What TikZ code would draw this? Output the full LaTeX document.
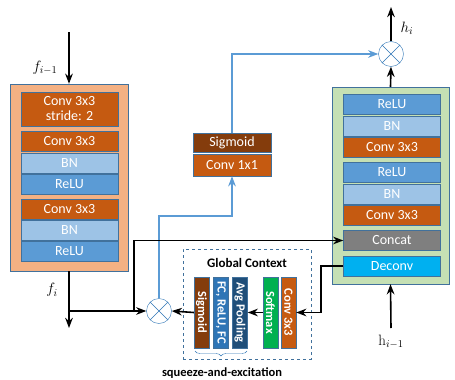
\documentclass[tikz,border=0pt]{standalone}
\usepackage{fix-cm}
\usepackage{fontspec}
\usepackage{xcolor}
\usepackage{tikz}
\usetikzlibrary{arrows.meta,positioning,calc,decorations.pathreplacing}

\newfontfamily\calibri{Carlito}
\newcommand{\blkfont}{\calibri\fontsize{14}{15}\selectfont}
\newcommand{\barfont}{\calibri\bfseries\fontsize{12.5}{13}\selectfont}
\newcommand{\mathlbl}{\fontsize{15}{17}\selectfont}

\definecolor{convc}{HTML}{C55A11}
\definecolor{bnc}{HTML}{9DC3E6}
\definecolor{reluc}{HTML}{5B9BD5}
\definecolor{sigc}{HTML}{843C0C}
\definecolor{catc}{HTML}{7F7F7F}
\definecolor{decc}{HTML}{00B0F0}
\definecolor{softc}{HTML}{00B050}
\definecolor{fcc}{HTML}{2E75B6}
\definecolor{avgc}{HTML}{1F4E79}
\definecolor{encc}{HTML}{F4B183}
\definecolor{decbox}{HTML}{C5E0B4}
\definecolor{edgec}{HTML}{41719C}
\definecolor{sel}{HTML}{5B9BD5}

\begin{document}
\begin{tikzpicture}[
  x=1pt, y=-1pt,
  blk/.style={draw=edgec, text=white, inner sep=0pt, minimum width=97pt,
    minimum height=20pt, font=\blkfont},
  conv/.style={blk, fill=convc},
  bn/.style={blk, fill=bnc},
  relu/.style={blk, fill=reluc},
  vbar/.style={draw=edgec, text=white, inner sep=0pt, rotate=-90,
    minimum width=71pt, minimum height=15pt, font=\barfont},
  stage/.style={draw=edgec, inner sep=0pt},
  mult/.style={circle, draw=fcc, fill=white, inner sep=0pt, minimum size=25pt},
  bl/.style={draw=sel, line width=1.6pt},
  wire/.style={line width=1.6pt},
  >=Stealth,
]
\useasboundingbox (0,0) rectangle (455,380);

% encoder stage
\node[stage, fill=encc, minimum width=118pt, minimum height=187pt] (enc) at (69,177.5) {};
\node[conv, minimum height=34pt, align=center] (e1) at (69.5,109) {Conv 3x3\\stride: 2};
\node[conv] (e2) at (69.5,141.5) {Conv 3x3};
\node[bn] (e3) at (69.5,163) {BN};
\node[relu] (e4) at (69.5,184) {ReLU};
\node[conv] (e5) at (69.5,209) {Conv 3x3};
\node[bn] (e6) at (69.5,230) {BN};
\node[relu] (e7) at (69.5,251.5) {ReLU};

% decoder stage
\node[stage, fill=decbox, minimum width=117pt, minimum height=197pt] (dec) at (390.5,185.5) {};
\node[relu] (d1) at (392,104) {ReLU};
\node[bn] (d2) at (392,126) {BN};
\node[conv] (d3) at (392,147) {Conv 3x3};
\node[relu] (d4) at (392,172) {ReLU};
\node[bn] (d5) at (392,194) {BN};
\node[conv] (d6) at (392,215) {Conv 3x3};
\node[blk, fill=catc] (cat) at (392,240.5) {Concat};
\node[blk, fill=decc] (dcv) at (392,266) {Deconv};

% gate
\node[blk, fill=sigc, minimum width=78pt, minimum height=19pt] (gsig) at (232,142.5) {Sigmoid};
\node[conv, minimum width=78pt, minimum height=22pt] (gconv) at (232,165) {Conv 1x1};

% global context
\node[draw=edgec, dashed, minimum width=128pt, minimum height=110pt] (gc) at (247,304) {};
\node[font=\calibri\bfseries\fontsize{13}{15}\selectfont] (gctitle) at (247,263) {Global Context};
\node[vbar, fill=sigc] (csig) at (201.5,312.5) {Sigmoid};
\node[vbar, fill=fcc] (cfc) at (221,312.5) {FC, ReLU, FC};
\node[vbar, fill=avgc] (cavg) at (240,312.5) {Avg Pooling};
\node[vbar, fill=softc] (csoft) at (270.5,312.5) {Softmax};
\node[vbar, fill=convc] (cconv) at (288.5,312.5) {Conv 3x3};
\draw[draw=fcc, decorate, decoration={brace, mirror, amplitude=5pt}]
  (195,351) -- (247,351);
\node[font=\calibri\bfseries\fontsize{12.5}{14}\selectfont] (selbl) at (222,373) {squeeze-and-excitation};

% multiply nodes
\node[mult] (m1) at (159,311) {};
\draw[fcc] (m1.north west) -- (m1.south east) (m1.north east) -- (m1.south west);
\node[mult] (m2) at (391,54) {};
\draw[fcc] (m2.north west) -- (m2.south east) (m2.north east) -- (m2.south west);

% labels
\node[font=\mathlbl] (fprev) at (45,68) {$f_{i-1}$};
\node[font=\mathlbl] (fcur) at (52,290) {$f_i$};
\node[font=\mathlbl] (hcur) at (407,28) {$h_i$};
\node[font=\mathlbl] (hprev) at (391,342) {$\mathrm{h}_{i-1}$};

\coordinate (fin) at (69,32);
\coordinate (fout) at (69,328);
\coordinate (tap) at (134,312);
\coordinate (seknee) at (159,216);
\coordinate (hout) at (391,7);
\coordinate (hin) at (391,328);
\coordinate (dknee) at (321,266);

% blue paths
\draw[bl, ->] (m1.north) -- (seknee) -| (gconv.south);
\draw[bl, ->] (gsig.north) |- (m2.west);

% black paths (the bars are turned: north is their right side)
\draw[wire, ->] (fin) -- (enc.north);
\draw[wire, ->] (enc.south) -- (fout);
\draw[wire, ->] (enc.south |- m1) -- (m1.west);
\draw[wire, ->] (tap) |- (cat.west);
\draw[wire, ->] (dcv.west) -- (dknee) |- (cconv.north);
\draw[wire, ->] (csoft.south) -- (cavg.north);
\draw[wire, ->] (csig.south) -- (m1.east);
\draw[wire, ->] (dec.north) -- (m2.south);
\draw[wire, ->] (m2.north) -- (hout);
\draw[wire, ->] (hin) -- (dec.south);
\end{tikzpicture}
\end{document}
